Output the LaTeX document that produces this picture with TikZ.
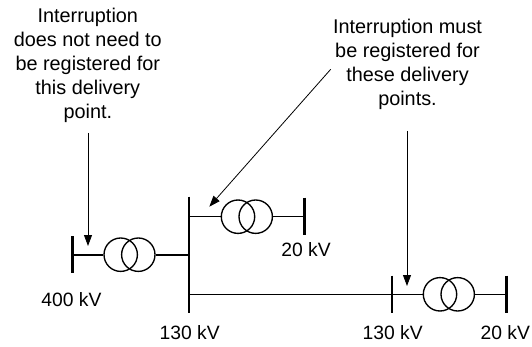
\documentclass[tikz,border=0pt]{standalone}
\usepackage{fontspec}
\setmainfont{Liberation Sans}
\usetikzlibrary{arrows.meta}
\begin{document}
\begin{tikzpicture}[x=1pt, y=-1pt,
    label/.style={font=\fontsize{19.3}{24.2}\selectfont, inner sep=0, align=center},
    remark/.style={font=\fontsize{19.85}{24.1}\selectfont, inner sep=0, align=center},
    winding/.style={draw, circle, minimum size=33.4pt, inner sep=0, line width=1.35pt},
    bus/.style={line width=2.6pt},
    branch/.style={line width=1.6pt},
    pointer/.style={line width=0.8pt, -{Triangle[length=11pt, width=8pt]}}]
  \useasboundingbox (0,0) rectangle (532,347);

  \coordinate (b400t) at (72.7,236);
  \coordinate (b400b) at (72.7,273);
  \coordinate (b400) at (72.7,254.7);
  \coordinate (b130t) at (189,196.7);
  \coordinate (b130b) at (189,312.7);
  \coordinate (b130a) at (189,254.7);
  \coordinate (b130c) at (189,216.7);
  \coordinate (b130d) at (189,294.3);
  \coordinate (b20at) at (304.3,197.7);
  \coordinate (b20ab) at (304.3,235);
  \coordinate (b20a) at (304.3,216.7);
  \coordinate (b130rt) at (392,275.7);
  \coordinate (b130rb) at (392,313.3);
  \coordinate (b130r) at (392,294.3);
  \coordinate (b20bt) at (506.3,275.7);
  \coordinate (b20bb) at (506.3,313.3);
  \coordinate (b20b) at (506.3,294.3);

  \node[winding] (t1a) at (120.7,254.7) {};
  \node[winding] (t1b) at (138.3,254.7) {};
  \node[winding] (t2a) at (238,216.7) {};
  \node[winding] (t2b) at (255.7,216.7) {};
  \node[winding] (t3a) at (440,294.3) {};
  \node[winding] (t3b) at (457.7,294.3) {};

  \draw[bus] (b400t) -- (b400b);
  \draw[bus] (b130t) -- (b130b);
  \draw[bus] (b20at) -- (b20ab);
  \draw[bus] (b130rt) -- (b130rb);
  \draw[bus] (b20bt) -- (b20bb);

  \draw[branch] (b400) -- (t1a.west);
  \draw[branch] (t1b.east) -- (b130a);
  \draw[branch] (b130c) -- (t2a.west);
  \draw[branch] (t2b.east) -- (b20a);
  \draw[branch] (b130d) -- (b130r);
  \draw[branch] (b130r) -- (t3a.west);
  \draw[branch] (t3b.east) -- (b20b);

  \node[remark] (notneeded) at (87.8,65.5) {Interruption\\does not need to\\be registered for\\this delivery\\point.};
  \node[remark] (must) at (407.5,64.5) {Interruption must\\be registered for\\these delivery\\points.};
  \node[label, anchor=base] (l400) at (71.5,306.7) {400 kV};
  \node[label, anchor=base] (l130) at (189.7,339) {130 kV};
  \node[label, anchor=base] (l20a) at (306,256.7) {20 kV};
  \node[label, anchor=base] (l130r) at (392.7,339) {130 kV};
  \node[label, anchor=base] (l20b) at (505.3,339) {20 kV};

  \coordinate (from1) at (88,133);
  \coordinate (to1) at (88,246);
  \coordinate (from2) at (330.7,69.3);
  \coordinate (to2) at (209.3,206.7);
  \coordinate (from3) at (407,131);
  \coordinate (to3) at (407,286);
  \draw[pointer] (from1) -- (to1);
  \draw[pointer] (from2) -- (to2);
  \draw[pointer] (from3) -- (to3);
\end{tikzpicture}
\end{document}
